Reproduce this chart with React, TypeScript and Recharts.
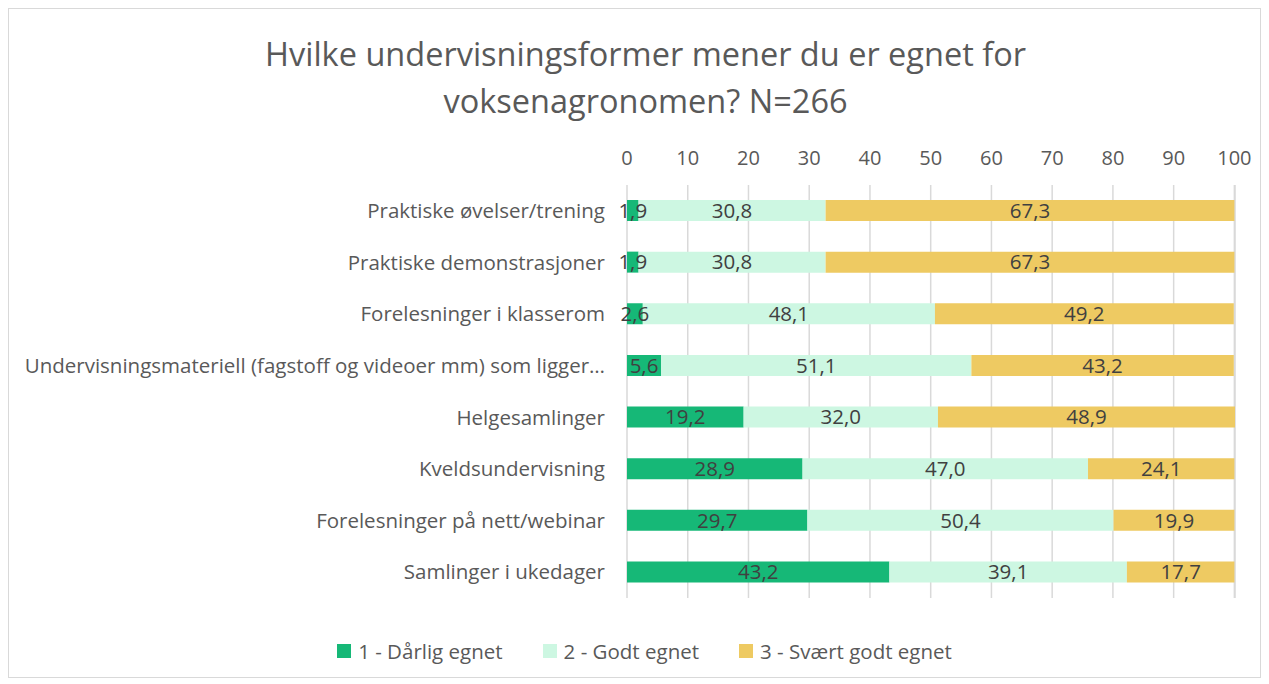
import { BarChart, Bar, XAxis, YAxis, CartesianGrid, Legend, LabelList } from "recharts";

const categories = [
  "Praktiske øvelser/trening",
  "Praktiske demonstrasjoner",
  "Forelesninger i klasserom",
  "Undervisningsmateriell (fagstoff og videoer mm) som ligger…",
  "Helgesamlinger",
  "Kveldsundervisning",
  "Forelesninger på nett/webinar",
  "Samlinger i ukedager",
];
const darlig = [1.9, 1.9, 2.6, 5.6, 19.2, 28.9, 29.7, 43.2];
const godt = [30.8, 30.8, 48.1, 51.1, 32.0, 47.0, 50.4, 39.1];
const svaert = [67.3, 67.3, 49.2, 43.2, 48.9, 24.1, 19.9, 17.7];
const xTicks = [0, 10, 20, 30, 40, 50, 60, 70, 80, 90, 100];

const series = [
  { key: "d", name: "1 - Dårlig egnet", color: "#16B877" },
  { key: "g", name: "2 - Godt egnet", color: "#CDF7E2" },
  { key: "s", name: "3 - Svært godt egnet", color: "#EECA62" },
];

const data = categories.map((name, i) => ({ name, d: darlig[i], g: godt[i], s: svaert[i] }));

const FONT = "'Open Sans', sans-serif";
const GREY = "#595959";

const fmt = (v: any) => Number(v).toFixed(1).replace(".", ",");

function LegendBox() {
  return (
    <div style={{ display: "flex", justifyContent: "center", gap: 40, fontFamily: FONT, fontSize: 20.5, color: GREY, paddingLeft: 20 }}>
      {series.map((s) => (
        <div key={s.key} style={{ display: "flex", alignItems: "center", gap: 7 }}>
          <span style={{ display: "inline-block", width: 14, height: 14, background: s.color }} />
          <span>{s.name}</span>
        </div>
      ))}
    </div>
  );
}

export default function App() {
  return (
    <div
      style={{
        position: "relative",
        width: 1251,
        height: 668,
        border: "1px solid #d9d9d9",
        background: "#fff",
        fontFamily: FONT,
      }}
    >
      <div
        style={{
          position: "absolute",
          top: 21,
          left: 0,
          width: 1251,
          textAlign: "center",
          fontSize: 32.5,
          lineHeight: "47px",
          color: GREY,
          paddingLeft: 22,
          boxSizing: "border-box",
        }}
      >
        Hvilke undervisningsformer mener du er egnet for
        <br />
        voksenagronomen? N=266
      </div>
      <BarChart
        width={1251}
        height={668}
        data={data}
        layout="vertical"
        margin={{ top: 146, right: 25, bottom: 79, left: 0 }}
        barSize={21}
      >
        <CartesianGrid horizontal={false} stroke="#d9d9d9" strokeWidth={1.5} />
        <XAxis
          type="number"
          orientation="top"
          domain={[0, 100]}
          ticks={xTicks}
          axisLine={false}
          tickLine={false}
          tickSize={6}
          tickMargin={14}
          height={30}
          tick={{ fill: GREY, fontSize: 20, fontFamily: FONT }}
        />
        <YAxis
          type="category"
          dataKey="name"
          width={618}
          axisLine={false}
          tickLine={false}
          tickSize={0}
          tickMargin={22}
          interval={0}
          tick={{ fill: GREY, fontSize: 20.5, fontFamily: FONT }}
        />
        <Legend
          layout="horizontal"
          verticalAlign="middle"
          align="center"
          wrapperStyle={{ top: 628, left: 0, width: 1251 }}
          content={() => <LegendBox />}
        />
        {series.map((s) => (
          <Bar key={s.key} dataKey={s.key} name={s.name} stackId="a" fill={s.color} isAnimationActive={false}>
            <LabelList
              dataKey={s.key}
              position="center"
              formatter={fmt}
              fill="#404040"
              style={{ fontSize: 20.5, fontFamily: FONT }}
            />
          </Bar>
        ))}
      </BarChart>
    </div>
  );
}
